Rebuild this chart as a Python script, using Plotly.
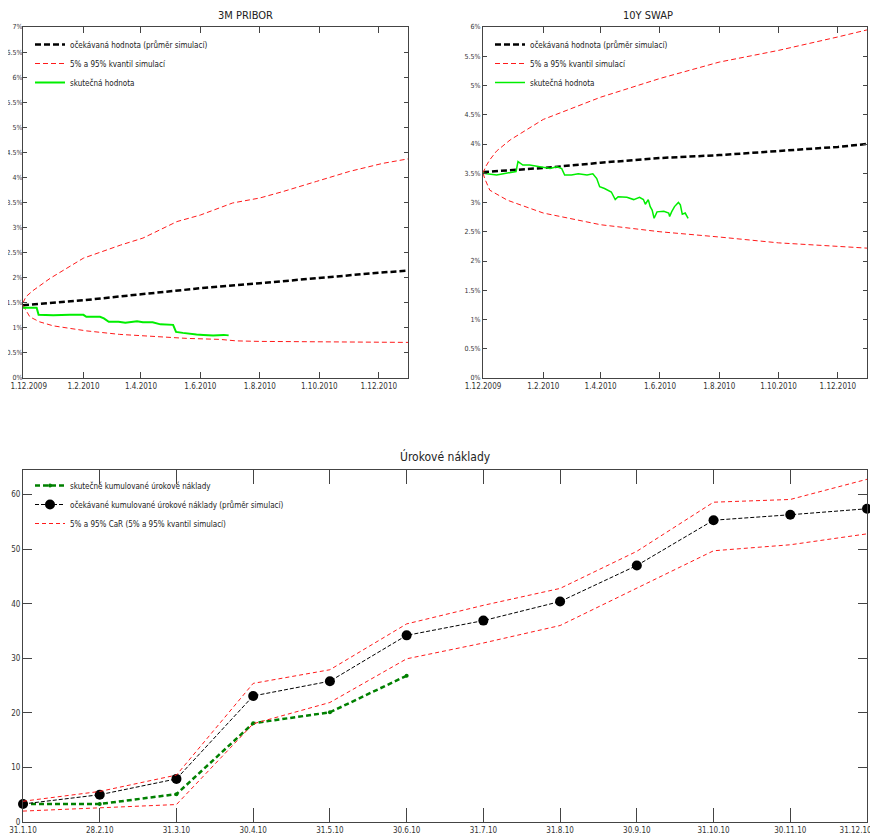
import plotly.graph_objects as go

# ---------------- data ----------------
# 3M PRIBOR (in %)
pribor_mean_dates = ["2009-12-01", "2010-02-01", "2010-04-01", "2010-06-01", "2010-08-01",
                     "2010-10-01", "2010-12-01", "2010-12-31"]
pribor_mean = [1.45, 1.55, 1.67, 1.79, 1.89, 2.00, 2.10, 2.14]

pribor_upper_dates = ["2009-12-01", "2009-12-04", "2009-12-11", "2009-12-29", "2010-02-01",
                      "2010-03-11", "2010-04-03", "2010-05-08", "2010-06-01", "2010-07-04",
                      "2010-08-01", "2010-08-25", "2010-09-28", "2010-11-01", "2010-12-05",
                      "2010-12-31"]
pribor_upper = [1.50, 1.62, 1.74, 1.99, 2.39, 2.65, 2.79, 3.12, 3.25, 3.49, 3.59, 3.72,
                3.92, 4.12, 4.28, 4.37]

pribor_lower_dates = ["2009-12-01", "2009-12-08", "2009-12-18", "2010-01-01", "2010-01-18",
                      "2010-02-04", "2010-03-10", "2010-04-13", "2010-05-18", "2010-06-21",
                      "2010-07-08", "2010-08-01", "2010-10-01", "2010-12-01", "2010-12-31"]
pribor_lower = [1.45, 1.22, 1.12, 1.04, 0.99, 0.94, 0.87, 0.83, 0.79, 0.77, 0.74, 0.73,
                0.72, 0.72, 0.71]

pribor_actual_dates = ["2009-12-01", "2009-12-15", "2009-12-17", "2010-01-01", "2010-01-18",
                       "2010-02-01", "2010-02-04", "2010-02-18", "2010-02-22", "2010-02-27",
                       "2010-03-09", "2010-03-16", "2010-03-28", "2010-04-03", "2010-04-13",
                       "2010-04-21", "2010-05-04", "2010-05-07", "2010-05-14", "2010-05-21",
                       "2010-05-28", "2010-06-04", "2010-06-14", "2010-06-25", "2010-06-30"]
pribor_actual = [1.40, 1.40, 1.26, 1.25, 1.26, 1.26, 1.22, 1.22, 1.19, 1.12, 1.12, 1.10,
                 1.13, 1.11, 1.11, 1.07, 1.06, 0.92, 0.90, 0.88, 0.87, 0.86, 0.85, 0.86, 0.85]

# 10Y SWAP (in %)
swap_mean_dates = ["2009-12-01", "2010-02-01", "2010-04-01", "2010-06-01", "2010-08-01",
                   "2010-10-01", "2010-12-01", "2010-12-31"]
swap_mean = [3.52, 3.59, 3.68, 3.76, 3.81, 3.88, 3.95, 4.00]

swap_upper_dates = ["2009-12-01", "2009-12-04", "2009-12-08", "2009-12-15", "2009-12-29",
                    "2010-02-01", "2010-04-01", "2010-06-01", "2010-08-01", "2010-10-01",
                    "2010-12-01", "2010-12-31"]
swap_upper = [3.50, 3.62, 3.73, 3.88, 4.07, 4.42, 4.80, 5.12, 5.40, 5.60, 5.83, 5.95]

swap_lower_dates = ["2009-12-01", "2009-12-03", "2009-12-08", "2009-12-26", "2010-01-10",
                    "2010-02-01", "2010-04-01", "2010-06-01", "2010-08-01", "2010-10-01",
                    "2010-12-01", "2010-12-31"]
swap_lower = [3.50, 3.40, 3.21, 3.04, 2.95, 2.82, 2.62, 2.50, 2.41, 2.31, 2.25, 2.22]

swap_actual_dates = ["2009-12-01", "2009-12-08", "2009-12-15", "2009-12-22", "2009-12-29",
                     "2010-01-04", "2010-01-06", "2010-01-11", "2010-01-18", "2010-01-25",
                     "2010-02-01", "2010-02-08", "2010-02-15", "2010-02-20", "2010-02-23",
                     "2010-03-02", "2010-03-09", "2010-03-18", "2010-03-24", "2010-03-28",
                     "2010-03-31", "2010-04-05", "2010-04-12", "2010-04-16", "2010-04-19",
                     "2010-04-28", "2010-05-05", "2010-05-11", "2010-05-15", "2010-05-17",
                     "2010-05-20", "2010-05-22", "2010-05-24", "2010-05-26", "2010-05-29",
                     "2010-06-05", "2010-06-10", "2010-06-11", "2010-06-13", "2010-06-16",
                     "2010-06-20", "2010-06-22", "2010-06-24", "2010-06-27", "2010-06-30"]
swap_actual = [3.50, 3.49, 3.47, 3.49, 3.51, 3.53, 3.70, 3.64, 3.64, 3.62, 3.61, 3.58,
               3.61, 3.58, 3.47, 3.47, 3.49, 3.47, 3.49, 3.41, 3.27, 3.24, 3.18, 3.05,
               3.10, 3.09, 3.05, 3.09, 3.05, 2.97, 3.05, 2.93, 2.87, 2.73, 2.84, 2.85,
               2.82, 2.76, 2.84, 2.93, 3.00, 2.96, 2.80, 2.82, 2.73]

top_tick_dates = ["2009-12-01", "2010-02-01", "2010-04-01", "2010-06-01", "2010-08-01",
                  "2010-10-01", "2010-12-01"]
top_tick_labels = ["1.12.2009", "1.2.2010", "1.4.2010", "1.6.2010", "1.8.2010",
                   "1.10.2010", "1.12.2010"]

# Úrokové náklady
month_labels = ["31.1.10", "28.2.10", "31.3.10", "30.4.10", "31.5.10", "30.6.10",
                "31.7.10", "31.8.10", "30.9.10", "31.10.10", "30.11.10", "31.12.10"]
cost_expected = [3.3, 5.0, 7.9, 23.1, 25.8, 34.2, 36.9, 40.4, 47.0, 55.3, 56.3, 57.4]
cost_upper = [3.8, 5.6, 8.6, 25.4, 27.9, 36.3, 39.7, 42.8, 49.6, 58.6, 59.1, 62.8]
cost_lower = [2.0, 2.6, 3.2, 18.0, 21.9, 29.9, 32.8, 36.0, 42.9, 49.7, 50.8, 52.8]
cost_actual = [3.3, 3.3, 5.1, 18.1, 20.1, 26.8]

# ---------------- figure ----------------
FONT = "DejaVu Sans Condensed, Liberation Sans Narrow, Liberation Sans, sans-serif"
OFF = 8            # page body margin of the html page
W, H = 878 - OFF, 838 - OFF
RED = "#ff1a1a"
GREEN = "#00ee00"
NB = "\u00a0"
PAD = "<span style='color:rgba(0,0,0,0)'>" + NB * 10 + "</span>"

fig = go.Figure()

lbl_mean = "očekávaná hodnota (průměr simulací)"
lbl_q = "5% a 95% kvantil simulací"
lbl_act = "skutečná hodnota"

# --- 3M PRIBOR ---
fig.add_trace(go.Scatter(x=pribor_mean_dates, y=pribor_mean, mode="lines", name=lbl_mean,
                         line=dict(color="black", width=2.5, dash="6px,3px"),
                         xaxis="x", yaxis="y", legend="legend"))
fig.add_trace(go.Scatter(x=pribor_upper_dates, y=pribor_upper, mode="lines", name=lbl_q,
                         line=dict(color=RED, width=1, dash="5px,3px"), legendgroup="q1",
                         xaxis="x", yaxis="y", legend="legend"))
fig.add_trace(go.Scatter(x=pribor_lower_dates, y=pribor_lower, mode="lines", name=lbl_q,
                         line=dict(color=RED, width=1, dash="5px,3px"), legendgroup="q1",
                         showlegend=False, xaxis="x", yaxis="y", legend="legend"))
fig.add_trace(go.Scatter(x=pribor_actual_dates, y=pribor_actual, mode="lines", name=lbl_act,
                         line=dict(color=GREEN, width=2),
                         xaxis="x", yaxis="y", legend="legend"))

# --- 10Y SWAP ---
fig.add_trace(go.Scatter(x=swap_mean_dates, y=swap_mean, mode="lines", name=lbl_mean,
                         line=dict(color="black", width=2.5, dash="6px,3px"),
                         xaxis="x2", yaxis="y2", legend="legend2"))
fig.add_trace(go.Scatter(x=swap_upper_dates, y=swap_upper, mode="lines", name=lbl_q,
                         line=dict(color=RED, width=1, dash="5px,3px"), legendgroup="q2",
                         xaxis="x2", yaxis="y2", legend="legend2"))
fig.add_trace(go.Scatter(x=swap_lower_dates, y=swap_lower, mode="lines", name=lbl_q,
                         line=dict(color=RED, width=1, dash="5px,3px"), legendgroup="q2",
                         showlegend=False, xaxis="x2", yaxis="y2", legend="legend2"))
fig.add_trace(go.Scatter(x=swap_actual_dates, y=swap_actual, mode="lines", name=lbl_act,
                         line=dict(color=GREEN, width=1.5),
                         xaxis="x2", yaxis="y2", legend="legend2"))

# --- Úrokové náklady ---
idx = list(range(len(month_labels)))
fig.add_trace(go.Scatter(x=idx[:len(cost_actual)], y=cost_actual, mode="lines+markers",
                         name="skutečné kumulované úrokové náklady",
                         line=dict(color="#008000", width=2.5, dash="5px,3px"),
                         marker=dict(color="#008000", size=4, symbol="circle"),
                         cliponaxis=False, xaxis="x3", yaxis="y3", legend="legend3"))
fig.add_trace(go.Scatter(x=idx, y=cost_expected, mode="lines+markers",
                         name="očekávané kumulované úrokové náklady (průměr simulací)",
                         line=dict(color="black", width=1, dash="4px,2px"),
                         marker=dict(color="black", size=10, symbol="circle"),
                         cliponaxis=False, xaxis="x3", yaxis="y3", legend="legend3"))
fig.add_trace(go.Scatter(x=idx, y=cost_upper, mode="lines",
                         name="5% a 95% CaR (5% a 95% kvantil simulací)",
                         line=dict(color=RED, width=1, dash="4px,3px"), legendgroup="q3",
                         xaxis="x3", yaxis="y3", legend="legend3"))
fig.add_trace(go.Scatter(x=idx, y=cost_lower, mode="lines",
                         name="5% a 95% CaR (5% a 95% kvantil simulací)",
                         line=dict(color=RED, width=1, dash="4px,3px"), legendgroup="q3",
                         showlegend=False, xaxis="x3", yaxis="y3", legend="legend3"))


def px_x(a, b):
    return [(a - OFF) / W, (b - OFF) / W]


def px_y(top, bottom):
    return [1 - (bottom - OFF) / H, 1 - (top - OFF) / H]


def sx(x):
    return (x - OFF) / W


def sy(y):
    return 1 - (y - OFF) / H


# tick texts: edge labels padded so they stay inside the page
left_top_ticktext = [NB * 5 + top_tick_labels[0]] + top_tick_labels[1:]
bottom_ticktext = month_labels[:-1] + [month_labels[-1] + PAD]

axis_common = dict(showline=True, linecolor="#444", linewidth=1, mirror="ticks",
                   ticks="inside", tickcolor="#444", showgrid=False, zeroline=False,
                   automargin=False, ticklabeloverflow="allow",
                   tickfont=dict(family=FONT, size=8, color="#333"))

date_axis = dict(axis_common, type="date", range=["2009-12-01", "2010-12-31"],
                 tickmode="array", tickvals=top_tick_dates, ticktext=top_tick_labels,
                 ticklen=6)

yaxis_pct = dict(axis_common, dtick=0.5, ticksuffix="%", ticklen=4,
                 tickfont=dict(family=FONT, size=7, color="#333"))

legend_common = dict(xanchor="left", yanchor="top", bgcolor="rgba(255,255,255,0)",
                     font=dict(family=FONT, size=8, color="#222"),
                     tracegroupgap=0, itemwidth=30)

fig.update_layout(
    width=W, height=H, margin=dict(l=0, r=0, t=0, b=0, autoexpand=False),
    paper_bgcolor="white", plot_bgcolor="white",
    font=dict(family=FONT, size=8, color="#222"),
    xaxis=dict(date_axis, domain=px_x(23, 408), anchor="y", ticktext=left_top_ticktext),
    yaxis=dict(yaxis_pct, domain=px_y(27, 378), range=[0, 7], anchor="x",
               ticklabelstandoff=-2),
    xaxis2=dict(date_axis, domain=px_x(483, 867), anchor="y2"),
    yaxis2=dict(yaxis_pct, domain=px_y(27, 378), range=[0, 6], anchor="x2"),
    xaxis3=dict(axis_common, domain=px_x(23, 867), anchor="y3", range=[0, 11],
                tickmode="array", tickvals=idx, ticktext=bottom_ticktext, ticklen=14),
    yaxis3=dict(axis_common, domain=px_y(470, 822), range=[0, 64.5],
                tickmode="array", tickvals=[0, 10, 20, 30, 40, 50, 60], ticklen=9,
                anchor="x3"),
    legend=dict(legend_common, x=sx(30), y=sy(30)),
    legend2=dict(legend_common, x=sx(490), y=sy(30)),
    legend3=dict(legend_common, x=sx(30), y=sy(471)),
    annotations=[
        dict(text="3M PRIBOR", x=sx((23 + 408) / 2), y=sy(15), xref="paper",
             yref="paper", yanchor="middle", showarrow=False,
             font=dict(family=FONT, size=11, color="#222")),
        dict(text="10Y SWAP", x=sx((483 + 867) / 2), y=sy(15), xref="paper",
             yref="paper", yanchor="middle", showarrow=False,
             font=dict(family=FONT, size=11, color="#222")),
        dict(text="Úrokové náklady", x=sx((23 + 867) / 2), y=sy(456), xref="paper",
             yref="paper", yanchor="middle", showarrow=False,
             font=dict(family=FONT, size=12, color="#222")),
    ],
)

fig.write_html("out.html")
